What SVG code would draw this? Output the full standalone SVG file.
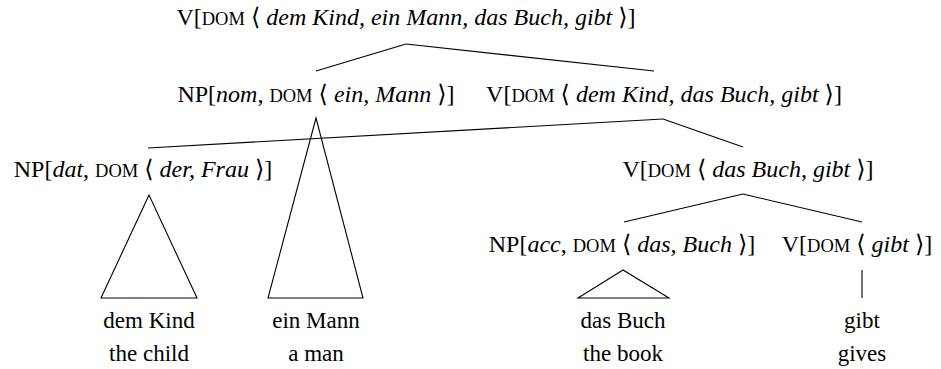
<svg xmlns="http://www.w3.org/2000/svg" width="941" height="369" viewBox="0 0 941 369">
<style>
text{font-family:'Liberation Serif','DejaVu Serif',Times,serif;font-size:23px;fill:#000;text-anchor:middle}
.lab{font-size:24px}
.sc{font-size:18.5px}
.it{font-style:italic}
line,polygon{stroke:#000;stroke-width:1.1;fill:none}
</style>
<rect width="941" height="369" fill="#fff"/>
<g id="connectors">
<line x1="406" y1="44" x2="316" y2="71"/>
<line x1="406" y1="44" x2="654" y2="71"/>
<line x1="663" y1="119" x2="148" y2="148"/>
<line x1="663" y1="119" x2="743" y2="147"/>
<line x1="743" y1="194" x2="624" y2="222"/>
<line x1="743" y1="194" x2="862" y2="222"/>
<polygon points="316,118 268,298 363,298"/>
<polygon points="149,195 101,298 197,298"/>
<polygon points="623,270 578,298 669,298"/>
<line x1="862" y1="270" x2="862" y2="298"/>
</g>
<g font-family="Liberation Serif, serif">
<g id="n-root"><text class="lab" x="406" y="25">V[<tspan class="sc">DOM</tspan> ⟨ <tspan class="it">dem Kind, ein Mann, das Buch, gibt</tspan> ⟩]</text></g>
<g id="n-npnom"><text class="lab" x="316" y="102">NP[<tspan class="it">nom</tspan>, <tspan class="sc">DOM</tspan> ⟨ <tspan class="it">ein, Mann</tspan> ⟩]</text></g>
<g id="n-v2"><text class="lab" x="664" y="102">V[<tspan class="sc">DOM</tspan> ⟨ <tspan class="it">dem Kind, das Buch, gibt</tspan> ⟩]</text></g>
<g id="n-npdat"><text class="lab" x="143" y="177">NP[<tspan class="it">dat</tspan>, <tspan class="sc">DOM</tspan> ⟨ <tspan class="it">der, Frau</tspan> ⟩]</text></g>
<g id="n-v3"><text class="lab" x="748" y="177">V[<tspan class="sc">DOM</tspan> ⟨ <tspan class="it">das Buch, gibt</tspan> ⟩]</text></g>
<g id="n-npacc"><text class="lab" x="622" y="252">NP[<tspan class="it">acc</tspan>, <tspan class="sc">DOM</tspan> ⟨ <tspan class="it">das, Buch</tspan> ⟩]</text></g>
<g id="n-v4"><text class="lab" x="857" y="252">V[<tspan class="sc">DOM</tspan> ⟨ <tspan class="it">gibt</tspan> ⟩]</text></g>
<g id="n-demkind"><text x="149" y="328">dem Kind</text><text x="149" y="361">the child</text></g>
<g id="n-einmann"><text x="316" y="328">ein Mann</text><text x="316" y="361">a man</text></g>
<g id="n-dasbuch"><text x="623" y="328">das Buch</text><text x="623" y="361">the book</text></g>
<g id="n-gibt"><text x="862" y="328">gibt</text><text x="862" y="361">gives</text></g>
</g>
</svg>
